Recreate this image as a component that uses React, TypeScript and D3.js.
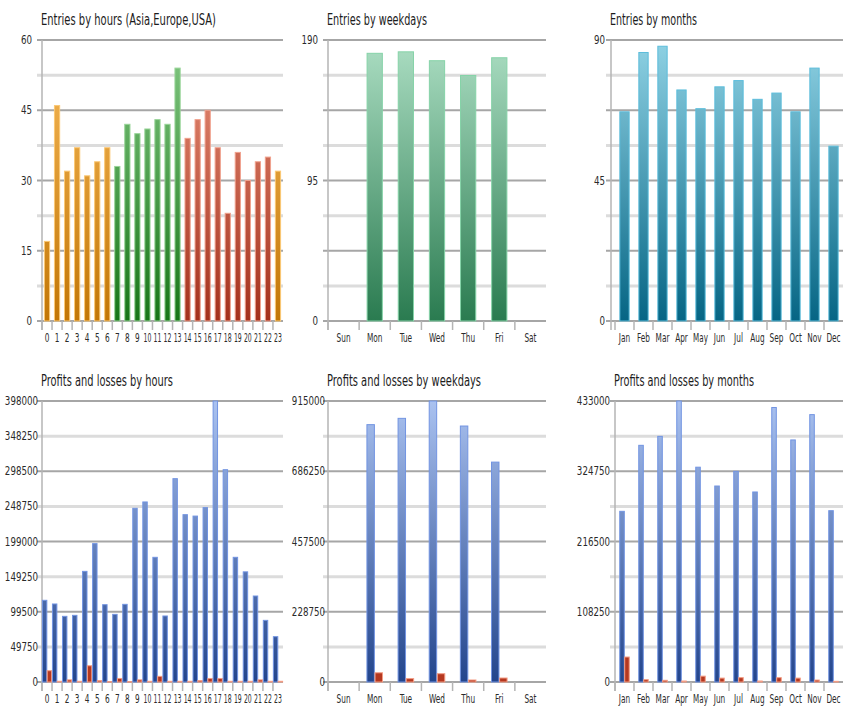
import { useEffect, useRef } from "react"
import * as d3 from "d3"

// categories
const hourLabels = ["0", "1", "2", "3", "4", "5", "6", "7", "8", "9", "10", "11", "12", "13", "14", "15", "16", "17", "18", "19", "20", "21", "22", "23"]
const hourRegion = ["asia", "asia", "asia", "asia", "asia", "asia", "asia", "europe", "europe", "europe", "europe", "europe", "europe", "europe", "usa", "usa", "usa", "usa", "usa", "usa", "usa", "usa", "usa", "asia"]
const weekdays = ["Sun", "Mon", "Tue", "Wed", "Thu", "Fri", "Sat"]
const months = ["Jan", "Feb", "Mar", "Apr", "May", "Jun", "Jul", "Aug", "Sep", "Oct", "Nov", "Dec"]

// entries
const entriesByHour = [17, 46, 32, 37, 31, 34, 37, 33, 42, 40, 41, 43, 42, 54, 39, 43, 45, 37, 23, 36, 30, 34, 35, 32]
const entriesByWeekday = [0, 181, 182, 176, 166, 178, 0]
const entriesByMonth = [67, 86, 88, 74, 68, 75, 77, 71, 73, 67, 81, 56]

// profits / losses
const profitsByHour = [115700, 110500, 93000, 94400, 156700, 196000, 109500, 95800, 110000, 246000, 255000, 176600, 93500, 288000, 237000, 235000, 247000, 398000, 300700, 176600, 156000, 121800, 87300, 64200]
const lossesByHour = [16000, 1000, 3000, 1000, 23000, 2000, 500, 5000, 500, 3000, 1000, 8000, 1000, 1000, 1000, 2000, 5000, 5000, 1000, 1000, 1000, 3000, 1000, 1000]
const profitsByWeekday = [0, 838000, 858500, 915000, 833500, 716000, 0]
const lossesByWeekday = [0, 30000, 11000, 27000, 6500, 13000, 0]
const profitsByMonth = [263000, 364700, 378500, 433000, 331000, 302000, 324600, 292800, 423000, 373000, 412000, 264000]
const lossesByMonth = [38500, 3600, 2600, 1500, 9000, 6000, 6700, 1500, 6700, 6000, 3000, 1000]

// y tick labels
const hourEntryTicks = [0, 15, 30, 45, 60]
const weekdayEntryTicks = [0, 95, 190]
const monthEntryTicks = [0, 45, 90]
const hourProfitTicks = [0, 49750, 99500, 149250, 199000, 248750, 298500, 348250, 398000]
const weekdayProfitTicks = [0, 228750, 457500, 686250, 915000]
const monthProfitTicks = [0, 108250, 216500, 324750, 433000]

const FONT = "'Liberation Sans Narrow', 'Arial Narrow', 'DejaVu Sans Condensed', sans-serif"

const schemes: Record<string, { top: string; bottom: string; stroke: string }> = {
  asia: { top: "#f8bb5c", bottom: "#c27606", stroke: "#fbc874" },
  europe: { top: "#84c984", bottom: "#177517", stroke: "#98d498" },
  usa: { top: "#ea937c", bottom: "#a3301c", stroke: "#f0a28e" },
  weekday: { top: "#acdec3", bottom: "#2a7b50", stroke: "#86d3a8" },
  month: { top: "#90d2e4", bottom: "#056584", stroke: "#5cbddb" },
  profit: { top: "#aac2f0", bottom: "#23458c", stroke: "#7294e2" },
}

interface Layout {
  axisX: number
  bandX: number
  right: number
  top: number
  bottom: number
  labelRight: number
  titleWidth: number
  frac: number
}

type G = d3.Selection<SVGGElement, unknown, null, undefined>

function drawFrame(g: G, id: string, L: Layout, title: string, cats: string[], yMax: number, ticks: number[]) {
  const x = d3.scaleBand<string>().domain(cats).range([L.bandX, L.right]).padding(0)
  const y = d3.scaleLinear().domain([0, yMax]).range([L.bottom, L.top])

  g.append("text")
    .attr("x", L.axisX - 1)
    .attr("y", L.top - 15)
    .attr("font-family", FONT)
    .attr("font-size", 15)
    .attr("fill", "#1c1c1c")
    .attr("textLength", L.titleWidth)
    .attr("lengthAdjust", "spacingAndGlyphs")
    .text(title)

  // grid: 8 divisions, even ones darker
  const grid = d3.range(0, 9).map((i) => (yMax * i) / 8)
  g.selectAll(".grid")
    .data(grid)
    .enter()
    .append("line")
    .attr("x1", L.axisX - 5)
    .attr("x2", L.right)
    .attr("y1", (d) => y(d))
    .attr("y2", (d) => y(d))
    .attr("stroke", (_, i) => (i % 2 === 0 ? "#a6a6a6" : "#dcdcdc"))
    .attr("stroke-width", (_, i) => (i % 2 === 0 ? 2 : 3))

  g.append("line")
    .attr("x1", L.axisX)
    .attr("x2", L.axisX)
    .attr("y1", L.top)
    .attr("y2", L.bottom + 9)
    .attr("stroke", "#b4b4b4")
    .attr("stroke-width", 1.5)

  g.selectAll(".xtick")
    .data(cats)
    .enter()
    .append("line")
    .attr("x1", (d) => x(d)!)
    .attr("x2", (d) => x(d)!)
    .attr("y1", L.bottom)
    .attr("y2", L.bottom + 9)
    .attr("stroke", "#b4b4b4")
    .attr("stroke-width", 1.5)

  // y labels, horizontally condensed
  g.selectAll(".ylabel")
    .data(ticks)
    .enter()
    .append("text")
    .attr("transform", (d) => `translate(${L.labelRight},${y(d) + 4}) scale(0.84,1)`)
    .attr("text-anchor", "end")
    .attr("font-family", FONT)
    .attr("font-size", 11.5)
    .attr("fill", "#2a2a2a")
    .text((d) => String(d))

  // x labels, condensed to fit the band
  const maxW = x.bandwidth() * 0.78
  g.selectAll(".xlabel")
    .data(cats)
    .enter()
    .append("text")
    .attr("text-anchor", "middle")
    .attr("font-family", FONT)
    .attr("font-size", 12)
    .attr("fill", "#2a2a2a")
    .text((d) => d)
    .each(function (d) {
      const len = this.getComputedTextLength()
      const k = Math.min(0.68, maxW / len)
      d3.select(this).attr("transform", `translate(${x(d)! + x.bandwidth() / 2},${L.bottom + 21}) scale(${k},1)`)
    })

  // gradients across the plot height
  const defs = g.append("defs")
  Object.entries(schemes).forEach(([k, s]) => {
    const gr = defs
      .append("linearGradient")
      .attr("id", `${id}-${k}`)
      .attr("gradientUnits", "userSpaceOnUse")
      .attr("x1", 0)
      .attr("x2", 0)
      .attr("y1", L.top)
      .attr("y2", L.bottom)
    gr.append("stop").attr("offset", "0%").attr("stop-color", s.top)
    gr.append("stop").attr("offset", "100%").attr("stop-color", s.bottom)
  })

  return { x, y }
}

function drawEntries(g: G, id: string, L: Layout, title: string, cats: string[], values: number[], yMax: number, ticks: number[], scheme: (i: number) => string) {
  const { x, y } = drawFrame(g, id, L, title, cats, yMax, ticks)
  const w = x.bandwidth() * L.frac
  const data = cats.map((c, i) => ({ c, v: values[i], s: scheme(i) })).filter((d) => d.v > 0)
  g.selectAll(".bar")
    .data(data)
    .enter()
    .append("rect")
    .attr("x", (d) => x(d.c)! + (x.bandwidth() - w) / 2)
    .attr("y", (d) => y(d.v))
    .attr("width", w)
    .attr("height", (d) => y(0) - y(d.v))
    .attr("fill", (d) => `url(#${id}-${d.s})`)
    .attr("stroke", (d) => schemes[d.s].stroke)
    .attr("stroke-width", 1)
}

function drawPL(g: G, id: string, L: Layout, title: string, cats: string[], profits: number[], losses: number[], yMax: number, ticks: number[]) {
  const { x, y } = drawFrame(g, id, L, title, cats, yMax, ticks)
  const gw = x.bandwidth() * L.frac
  const sub = d3.scaleBand<string>().domain(["p", "l"]).range([0, gw]).paddingInner(0.08)
  const data = cats.flatMap((c, i) => [
    { c, k: "p", v: profits[i] },
    { c, k: "l", v: losses[i] },
  ]).filter((d) => d.v > 0)
  g.selectAll(".bar")
    .data(data)
    .enter()
    .append("rect")
    .attr("x", (d) => x(d.c)! + (x.bandwidth() - gw) / 2 + sub(d.k)!)
    .attr("y", (d) => y(d.v))
    .attr("width", sub.bandwidth())
    .attr("height", (d) => Math.max(0.5, y(0) - y(d.v)))
    .attr("fill", (d) => (d.k === "p" ? `url(#${id}-profit)` : "#b53820"))
    .attr("stroke", (d) => (d.k === "p" ? schemes.profit.stroke : "#f39c84"))
    .attr("stroke-width", 1)
}

export default function App() {
  const ref = useRef<SVGSVGElement>(null)

  useEffect(() => {
    const svg = d3.select(ref.current)
    svg.selectAll("*").remove()

    const top1 = { top: 40, bottom: 321 }
    const top2 = { top: 401, bottom: 682 }

    drawEntries(svg.append("g"), "p1", { axisX: 42, bandX: 42, right: 283, labelRight: 32, titleWidth: 175, frac: 0.52, ...top1 },
      "Entries by hours (Asia,Europe,USA)", hourLabels, entriesByHour, 60, hourEntryTicks, (i) => hourRegion[i])
    drawEntries(svg.append("g"), "p2", { axisX: 328, bandX: 328, right: 546, labelRight: 318, titleWidth: 100, frac: 0.49, ...top1 },
      "Entries by weekdays", weekdays, entriesByWeekday, 190, weekdayEntryTicks, () => "weekday")
    drawEntries(svg.append("g"), "p3", { axisX: 611, bandX: 615, right: 843, labelRight: 605, titleWidth: 87, frac: 0.49, ...top1 },
      "Entries by months", months, entriesByMonth, 90, monthEntryTicks, () => "month")

    drawPL(svg.append("g"), "p4", { axisX: 42, bandX: 42, right: 283, labelRight: 38, titleWidth: 132, frac: 0.92, ...top2 },
      "Profits and losses by hours", hourLabels, profitsByHour, lossesByHour, 398000, hourProfitTicks)
    drawPL(svg.append("g"), "p5", { axisX: 328, bandX: 328, right: 546, labelRight: 325, titleWidth: 154, frac: 0.5, ...top2 },
      "Profits and losses by weekdays", weekdays, profitsByWeekday, lossesByWeekday, 915000, weekdayProfitTicks)
    drawPL(svg.append("g"), "p6", { axisX: 615, bandX: 615, right: 843, labelRight: 610, titleWidth: 140, frac: 0.5, ...top2 },
      "Profits and losses by months", months, profitsByMonth, lossesByMonth, 433000, monthProfitTicks)
  }, [])

  return (
    <svg
      ref={ref}
      width={860}
      height={721}
      style={{ position: "absolute", left: 0, top: 0, background: "#fff" }}
    />
  )
}
